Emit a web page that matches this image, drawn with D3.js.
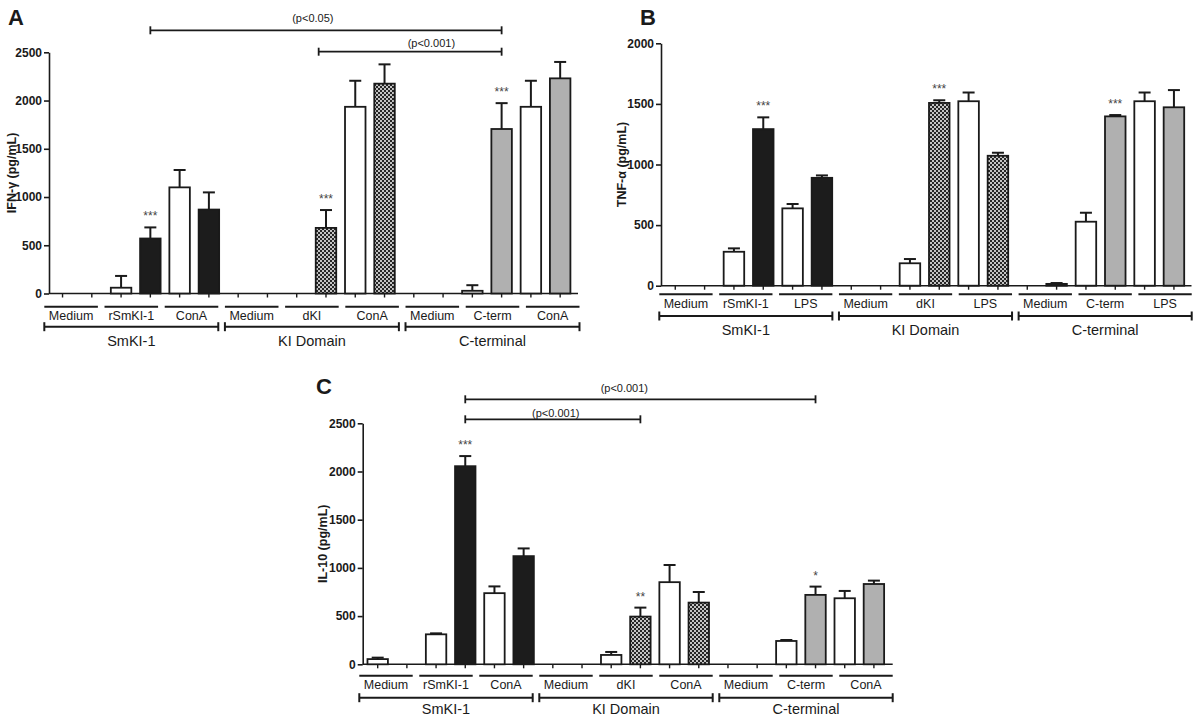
<!DOCTYPE html>
<html>
<head>
<meta charset="utf-8">
<script src="https://cdn.jsdelivr.net/npm/d3@7"></script>
<style>
  body { margin: 0; background: #fff; }
  svg text { font-family: Arial, "Liberation Sans", sans-serif; fill: #1a1a1a; }
</style>
</head>
<body>
<script>
  // bar fill per position, same in every panel
  var barFills = ["white", "black", "white", "black", "white", "black",
                  "white", "check", "white", "check", "white", "check",
                  "white", "gray", "white", "gray", "white", "gray"];

  var domains = ["SmKI-1", "KI Domain", "C-terminal"];
  var condA = ["Medium", "rSmKI-1", "ConA", "Medium", "dKI", "ConA", "Medium", "C-term", "ConA"];
  var condB = ["Medium", "rSmKI-1", "LPS", "Medium", "dKI", "LPS", "Medium", "C-term", "LPS"];
  var condC = ["Medium", "rSmKI-1", "ConA", "Medium", "dKI", "ConA", "Medium", "C-term", "ConA"];

  // IFN-gamma (panel A)
  var ifnMean = [0, 0, 60, 570, 1100, 870, 0, 0, 0, 680, 1935, 2175, 0, 0, 28, 1705, 1935, 2230];
  var ifnErr  = [0, 0, 122, 115, 180, 178, 0, 0, 0, 185, 270, 200, 0, 0, 58, 268, 270, 170];
  var ifnTicks = [0, 500, 1000, 1500, 2000, 2500];

  // TNF-alpha (panel B)
  var tnfMean = [0, 0, 280, 1292, 638, 890, 0, 0, 185, 1508, 1522, 1072, 0, 15, 528, 1397, 1522, 1472];
  var tnfErr  = [0, 0, 28, 97, 36, 20, 0, 0, 35, 22, 72, 25, 0, 7, 74, 11, 72, 142];
  var tnfTicks = [0, 500, 1000, 1500, 2000];

  // IL-10 (panel C)
  var il10Mean = [54, 0, 311, 2055, 738, 1122, 0, 0, 97, 495, 852, 640, 0, 0, 242, 720, 685, 833];
  var il10Err  = [15, 0, 10, 105, 70, 80, 0, 0, 31, 93, 178, 110, 0, 0, 10, 86, 76, 35];
  var il10Ticks = [0, 500, 1000, 1500, 2000, 2500];

  // stars above bars: [bar index, text]
  var starsA = [[3, "***"], [9, "***"], [15, "***"]];
  var starsB = [[3, "***"], [9, "***"], [15, "***"]];
  var starsC = [[3, "***"], [9, "**"], [15, "*"]];

  // significance brackets: [from bar, to bar, label position (bar units), text]
  var sigA = [[3, 15, 8.55, "(p<0.05)"], [8.75, 15, 12.6, "(p<0.001)"]];
  var sigC = [[3, 15, 8.45, "(p<0.001)"], [3, 9, 6.1, "(p<0.001)"]];

  var svg = d3.select("body").append("svg")
              .attr("width", 1195)
              .attr("height", 717);

  // checker pattern for the KI domain bars
  var pat = svg.append("defs").append("pattern")
               .attr("id", "check")
               .attr("width", 4)
               .attr("height", 4)
               .attr("patternUnits", "userSpaceOnUse");
  pat.append("rect").attr("width", 4).attr("height", 4).attr("fill", "#262626");
  pat.append("rect").attr("width", 2).attr("height", 2).attr("fill", "#c4c4c4");
  pat.append("rect").attr("x", 2).attr("y", 2).attr("width", 2).attr("height", 2).attr("fill", "#c4c4c4");

  var fillColor = {white: "#ffffff", black: "#1c1c1c", check: "url(#check)", gray: "#b0b0b0"};

  function drawPanel(p) {
      var g = svg.append("g");
      var idx = d3.range(p.mean.length);

      var x = d3.scaleBand()
                .domain(idx)
                .range(p.barRange)
                .paddingInner(0.3)
                .paddingOuter(0.15);

      // continuous version of the bar positions (for brackets)
      var xc = function(v) { return p.barRange[0] + x.step() * (v + 0.5); };

      var y = d3.scaleLinear()
                .domain([0, p.ticks[p.ticks.length - 1]])
                .range([p.y0, p.yTop]);

      var grp = d3.scaleBand()
                  .domain(d3.range(p.cond.length))
                  .range(p.grpRange)
                  .paddingInner(0.11)
                  .paddingOuter(0.055);

      // panel letter
      g.append("text")
       .attr("x", p.letter[0])
       .attr("y", p.letter[1])
       .style("font-size", "22px")
       .style("font-weight", "bold")
       .text(p.name);

      // y axis
      var yAxis = g.append("g")
                   .attr("transform", "translate(" + p.axisX + ",0)")
                   .call(d3.axisLeft(y).tickValues(p.ticks).tickFormat(d3.format("d"))
                           .tickSize(5).tickSizeOuter(0).tickPadding(2));
      yAxis.select(".domain").attr("stroke", "#1a1a1a").attr("stroke-width", 1.6);
      yAxis.selectAll(".tick line").attr("stroke", "#1a1a1a").attr("stroke-width", 1.6);
      yAxis.selectAll("text")
           .style("font-size", "12px")
           .style("font-weight", "bold")
           .style("font-family", "Arial, 'Liberation Sans', sans-serif")
           .attr("fill", "#1a1a1a");

      // y title
      g.append("text")
       .attr("transform", "translate(" + p.titleX + "," + ((p.y0 + p.yTop) / 2) + ")rotate(-90)")
       .attr("text-anchor", "middle")
       .attr("dy", "0.35em")
       .style("font-size", "12.5px")
       .style("font-weight", "bold")
       .text(p.title);

      // x axis line and ticks at each bar
      g.append("line")
       .attr("x1", p.axisX).attr("x2", p.axisEnd)
       .attr("y1", p.y0).attr("y2", p.y0)
       .attr("stroke", "#1a1a1a").attr("stroke-width", 1.6);

      g.selectAll("line.xt")
       .data(idx)
       .enter()
       .append("line")
       .attr("class", "xt")
       .attr("x1", function(d) { return x(d) + x.bandwidth() / 2; })
       .attr("x2", function(d) { return x(d) + x.bandwidth() / 2; })
       .attr("y1", p.y0)
       .attr("y2", p.y0 + 4)
       .attr("stroke", "#1a1a1a").attr("stroke-width", 1.4);

      // error bars (upper only)
      var eb = g.selectAll("g.err")
                .data(idx.filter(function(i) { return p.err[i] > 0; }))
                .enter()
                .append("g");
      eb.append("line")
        .attr("x1", function(i) { return x(i) + x.bandwidth() / 2; })
        .attr("x2", function(i) { return x(i) + x.bandwidth() / 2; })
        .attr("y1", function(i) { return y(p.mean[i]); })
        .attr("y2", function(i) { return y(p.mean[i] + p.err[i]); })
        .attr("stroke", "#1a1a1a").attr("stroke-width", 2);
      eb.append("line")
        .attr("x1", function(i) { return x(i) + x.bandwidth() / 2 - 6; })
        .attr("x2", function(i) { return x(i) + x.bandwidth() / 2 + 6; })
        .attr("y1", function(i) { return y(p.mean[i] + p.err[i]); })
        .attr("y2", function(i) { return y(p.mean[i] + p.err[i]); })
        .attr("stroke", "#1a1a1a").attr("stroke-width", 2);

      // bars
      g.selectAll("rect.bar")
       .data(idx)
       .enter()
       .append("rect")
       .attr("class", "bar")
       .attr("x", function(i) { return x(i); })
       .attr("width", x.bandwidth())
       .attr("y", function(i) { return y(p.mean[i]); })
       .attr("height", function(i) { return p.y0 - y(p.mean[i]); })
       .attr("fill", function(i) { return fillColor[barFills[i]]; })
       .attr("stroke", "#1a1a1a")
       .attr("stroke-width", 1.8);

      // stars
      g.selectAll("text.star")
       .data(p.stars)
       .enter()
       .append("text")
       .attr("x", function(d) { return x(d[0]) + x.bandwidth() / 2; })
       .attr("y", function(d) { return y(p.mean[d[0]] + p.err[d[0]]) - 7; })
       .attr("text-anchor", "middle")
       .style("font-size", "12px")
       .style("fill", "#444")
       .text(function(d) { return d[1]; });

      // condition segments with labels
      g.selectAll("line.seg")
       .data(p.cond)
       .enter()
       .append("line")
       .attr("x1", function(d, i) { return grp(i); })
       .attr("x2", function(d, i) { return grp(i) + grp.bandwidth(); })
       .attr("y1", p.segY).attr("y2", p.segY)
       .attr("stroke", "#1a1a1a").attr("stroke-width", 2);

      g.selectAll("text.cond")
       .data(p.cond)
       .enter()
       .append("text")
       .attr("x", function(d, i) { return grp(i) + grp.bandwidth() / 2; })
       .attr("y", p.condY)
       .attr("dy", "0.35em")
       .attr("text-anchor", "middle")
       .style("font-size", "12.5px")
       .text(function(d) { return d; });

      // domain brackets
      domains.forEach(function(dom, k) {
          var x1 = grp(k * 3), x2 = grp(k * 3 + 2) + grp.bandwidth();
          g.append("line")
           .attr("x1", x1).attr("x2", x2)
           .attr("y1", p.domY).attr("y2", p.domY)
           .attr("stroke", "#1a1a1a").attr("stroke-width", 2);
          [x1, x2].forEach(function(xx) {
              g.append("line")
               .attr("x1", xx).attr("x2", xx)
               .attr("y1", p.domY - 4.5).attr("y2", p.domY + 4.5)
               .attr("stroke", "#1a1a1a").attr("stroke-width", 2);
          });
          g.append("text")
           .attr("x", (x1 + x2) / 2)
           .attr("y", p.domLabelY)
           .attr("dy", "0.35em")
           .attr("text-anchor", "middle")
           .style("font-size", "14.5px")
           .text(dom);
      });

      // significance brackets
      p.sig.forEach(function(s, k) {
          var x1 = xc(s[0]), x2 = xc(s[1]);
          var yy = p.sigY[k];
          g.append("line")
           .attr("x1", x1).attr("x2", x2)
           .attr("y1", yy).attr("y2", yy)
           .attr("stroke", "#1a1a1a").attr("stroke-width", 1.8);
          [x1, x2].forEach(function(xx) {
              g.append("line")
               .attr("x1", xx).attr("x2", xx)
               .attr("y1", yy - 4).attr("y2", yy + 4)
               .attr("stroke", "#1a1a1a").attr("stroke-width", 1.8);
          });
          g.append("text")
           .attr("x", xc(s[2]))
           .attr("y", p.sigLabelY[k])
           .attr("dy", "0.35em")
           .attr("text-anchor", "middle")
           .style("font-size", "11px")
           .text(s[3]);
      });
  }

  drawPanel({
      name: "A", letter: [8, 25],
      mean: ifnMean, err: ifnErr, ticks: ifnTicks, cond: condA, stars: starsA,
      title: "IFN-\u03b3 (pg/mL)", titleX: 12,
      barRange: [47.9, 574.8], axisX: 49, axisEnd: 578,
      y0: 293.5, yTop: 52.3,
      grpRange: [41, 582.8],
      segY: 306.7, condY: 315.5, domY: 326.7, domLabelY: 340.5,
      sig: sigA, sigY: [30.3, 51.7], sigLabelY: [18, 43.5]
  });

  drawPanel({
      name: "B", letter: [640, 25],
      mean: tnfMean, err: tnfErr, ticks: tnfTicks, cond: condB, stars: starsB,
      title: "TNF-\u03b1 (pg/mL)", titleX: 622,
      barRange: [660.6, 1188.6], axisX: 661, axisEnd: 1191.5,
      y0: 285.7, yTop: 43.3,
      grpRange: [656, 1195],
      segY: 294.3, condY: 303.5, domY: 316, domLabelY: 329.5,
      sig: [], sigY: [], sigLabelY: []
  });

  drawPanel({
      name: "C", letter: [316, 394],
      mean: il10Mean, err: il10Err, ticks: il10Ticks, cond: condC, stars: starsC,
      title: "IL-10 (pg/mL)", titleX: 323,
      barRange: [363.1, 888.5], axisX: 362.7, axisEnd: 892.7,
      y0: 664.3, yTop: 423.3,
      grpRange: [356, 896],
      segY: 675.7, condY: 684.5, domY: 697.7, domLabelY: 708.5,
      sig: sigC, sigY: [399.3, 419.3], sigLabelY: [388, 413]
  });
</script>
</body>
</html>
